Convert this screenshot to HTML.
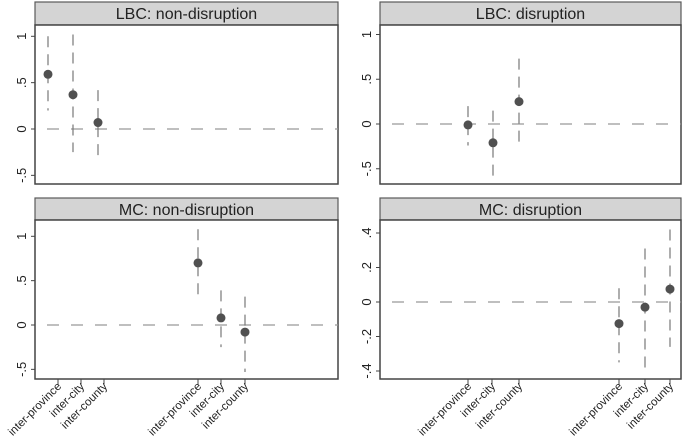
<!DOCTYPE html>
<html><head><meta charset="utf-8"><style>
html,body{margin:0;padding:0;background:#fff;}
svg{display:block;font-family:"Liberation Sans",Arial,sans-serif;}
</style></head><body>
<svg id="chart" width="685" height="446" viewBox="0 0 685 446"></svg>
<script>
const titles = ["LBC: non-disruption","LBC: disruption","MC: non-disruption","MC: disruption"];
const categories = ["inter-province","inter-city","inter-county"];
const est_lbc_non = [0.59, 0.37, 0.07];
const lo_lbc_non = [0.20, -0.25, -0.30];
const hi_lbc_non = [1.00, 1.02, 0.42];
const est_lbc_dis = [-0.01, -0.21, 0.25];
const lo_lbc_dis = [-0.24, -0.58, -0.24];
const hi_lbc_dis = [0.20, 0.15, 0.73];
const est_mc_non = [0.70, 0.08, -0.08];
const lo_mc_non = [0.30, -0.25, -0.53];
const hi_mc_non = [1.08, 0.39, 0.32];
const est_mc_dis = [-0.125, -0.03, 0.075];
const lo_mc_dis = [-0.35, -0.39, -0.26];
const hi_mc_dis = [0.08, 0.31, 0.42];
const ticks_big = [1, 0.5, 0, -0.5];
const tickLabels_big = ["1", ".5", "0", "-.5"];
const ticks_small = [0.4, 0.2, 0, -0.2, -0.4];
const tickLabels_small = [".4", ".2", "0", "-.2", "-.4"];

const NS = "http://www.w3.org/2000/svg";
const svg = document.getElementById('chart');
function mk(tag, attrs, parent){const e=document.createElementNS(NS,tag);for(const k in attrs)e.setAttribute(k,attrs[k]);(parent||svg).appendChild(e);return e;}

const panels = [
 {x0:35,x1:338,hy:2,py:25,pb:184,zero:129,k:92.7,xs:[48,73,98],est:est_lbc_non,lo:lo_lbc_non,hi:hi_lbc_non,ticks:ticks_big,tl:tickLabels_big,xt:null},
 {x0:380,x1:681,hy:2,py:25,pb:184,zero:124,k:89.5,xs:[468,493,519],est:est_lbc_dis,lo:lo_lbc_dis,hi:hi_lbc_dis,ticks:ticks_big,tl:tickLabels_big,xt:null},
 {x0:35,x1:338,hy:198,py:220,pb:379,zero:325,k:88.7,xs:[198,221,245],est:est_mc_non,lo:lo_mc_non,hi:hi_mc_non,ticks:ticks_big,tl:tickLabels_big,xt:[58,81,104,198,221,245]},
 {x0:380,x1:681,hy:198,py:220,pb:379,zero:302,k:172.5,xs:[619,645,670],est:est_mc_dis,lo:lo_mc_dis,hi:hi_mc_dis,ticks:ticks_small,tl:tickLabels_small,xt:[468,492,519,619,645,670]}
];

panels.forEach((p,i)=>{
  const g = mk('g',{});
  
  
  const y = v => p.zero - v*p.k;
  const hdr = mk('rect',{x:p.x0,y:p.hy,width:p.x1-p.x0,height:p.py-p.hy,fill:'#d4d4d4',stroke:'#5a5a5a','stroke-width':1.2},g);
  
  
  const t = mk('text',{x:(p.x0+p.x1)/2,y:p.hy+17,'text-anchor':'middle','font-size':16,fill:'#222'},g);
  t.textContent = titles[i];
  
  
  const box = mk('rect',{x:p.x0,y:p.py,width:p.x1-p.x0,height:p.pb-p.py,fill:'#fff',stroke:'#444','stroke-width':1.5},g);
  
  
  const zl = mk('line',{x1:p.x0+12,x2:p.x1,y1:y(0),y2:y(0),stroke:'#999','stroke-width':1.2,'stroke-dasharray':'12,12'},g);
  
  
  p.ticks.forEach((v,j)=>{
    const tk = mk('line',{x1:p.x0-4,x2:p.x0,y1:y(v),y2:y(v),stroke:'#444'},g);
    
    
    const lab = mk('text',{x:0,y:0,transform:`translate(${p.x0-9},${y(v)}) rotate(-90)`,'text-anchor':'middle','font-size':13,fill:'#222'},g);
    lab.textContent = p.tl[j];
    
    
  });
  p.est.forEach((v,j)=>{
    const ci = mk('line',{x1:p.xs[j],x2:p.xs[j],y1:y(p.hi[j]),y2:y(p.lo[j]),stroke:'#777','stroke-width':1.2,'stroke-dasharray':'11,7'},g);
    
    
    const pt = mk('circle',{cx:p.xs[j],cy:y(v),r:4.5,fill:'#505050'},g);
    
    
  });
  if(p.xt){
    p.xt.forEach((xx,j)=>{
      const tk = mk('line',{x1:xx,x2:xx,y1:p.pb,y2:p.pb+5,stroke:'#444'},g);
      
      
      const lab = mk('text',{x:0,y:0,transform:`translate(${xx+4},${p.pb+8}) rotate(-45)`,'text-anchor':'end','font-size':11.5,fill:'#222'},g);
      lab.textContent = categories[j%3];
      
      
    });
  }
});
</script>
</body></html>
